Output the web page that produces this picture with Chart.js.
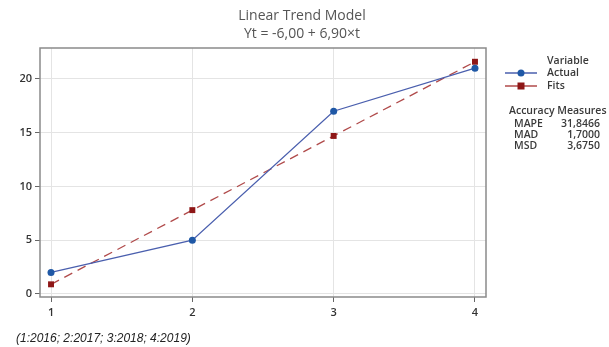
<!DOCTYPE html>
<html>
<head>
<meta charset="utf-8">
<script src="https://cdn.jsdelivr.net/npm/chart.js@4/dist/chart.umd.min.js"></script>
<style>
    html, body { margin: 0; padding: 0; background: #fff; }
    #wrap { position: relative; width: 609px; height: 347px; }
    #chart { position: absolute; left: 0; top: 0; }
    .txt { position: absolute; font-family: "Open Sans", sans-serif; color: #444; white-space: nowrap; }
    .title { left: 0; width: 604px; text-align: center; font-size: 14px; color: #555; }
    .leg { font-size: 10.5px; font-weight: 600; color: #3a3a3a; }
    .foot { left: 16px; top: 331px; font-family: "Liberation Sans", Arial, sans-serif; font-style: italic; font-size: 12px; color: #222; }
</style>
</head>
<body>
<div id="wrap">
    <canvas id="chart" width="609" height="347"></canvas>
    <div class="txt title" style="top:5px">Linear Trend Model</div>
    <div class="txt title" style="top:23px">Yt = -6,00 + 6,90×t</div>
    <div class="txt leg" style="left:547px; top:53px">Variable</div>
    <div class="txt leg" id="lab0" style="left:547px; top:65px"></div>
    <div class="txt leg" id="lab1" style="left:547px; top:78px"></div>
    <div class="txt leg" style="left:509px; top:103px">Accuracy Measures</div>
    <div id="acc"></div>
    <div class="txt foot">(1:2016; 2:2017; 3:2018; 4:2019)</div>
</div>
<script>
    // data
    const periods = [1, 2, 3, 4];
    const actualValues = [2, 5, 17, 21];
    const fitsValues = [0.9, 7.8, 14.7, 21.6];
    const seriesNames = ['Actual', 'Fits'];
    const yTicks = [0, 5, 10, 15, 20];
    const accNames = ['MAPE', 'MAD', 'MSD'];
    const accValues = ['31,8466', '1,7000', '3,6750'];

    const blueLine = '#4a5fae';
    const bluePoint = '#1f58a6';
    const redLine = '#b04a4a';
    const redPoint = '#8e1616';

    document.getElementById('lab0').textContent = seriesNames[0];
    document.getElementById('lab1').textContent = seriesNames[1];

    const accDiv = document.getElementById('acc');
    accNames.forEach((name, i) => {
        const top = 116 + i * 11;
        accDiv.innerHTML += `<div class="txt leg" style="left:514px; top:${top}px">${name}</div>` +
            `<div class="txt leg" style="left:540px; width:60px; text-align:right; top:${top}px">${accValues[i]}</div>`;
    });

    // box around the plot + legend symbols
    const extrasPlugin = {
        id: 'extras',
        afterDraw(chart) {
            const ctx = chart.ctx;
            const a = chart.chartArea;
            ctx.save();
            ctx.strokeStyle = '#8a8a8a';
            ctx.lineWidth = 1.5;
            ctx.strokeRect(a.left, a.top, a.right - a.left, a.bottom - a.top);

            const sym = [
                { y: 73, line: blueLine, fill: bluePoint, shape: 'circle' },
                { y: 86, line: redLine, fill: redPoint, shape: 'rect' }
            ];
            sym.forEach(s => {
                ctx.strokeStyle = s.line;
                ctx.lineWidth = 1.5;
                ctx.beginPath();
                ctx.moveTo(505, s.y);
                ctx.lineTo(537, s.y);
                ctx.stroke();
                ctx.fillStyle = s.fill;
                if (s.shape === 'circle') {
                    ctx.beginPath();
                    ctx.arc(521, s.y, 3.5, 0, Math.PI * 2);
                    ctx.fill();
                } else {
                    ctx.fillRect(517.5, s.y - 3.5, 7, 7);
                }
            });
            ctx.restore();
        }
    };

    const ctx = document.getElementById('chart').getContext('2d');
    new Chart(ctx, {
        type: 'line',
        data: {
            datasets: [
                {
                    label: seriesNames[0],
                    data: periods.map((p, i) => ({ x: p, y: actualValues[i] })),
                    borderColor: blueLine,
                    borderWidth: 1.3,
                    pointStyle: 'circle',
                    pointRadius: 3.5,
                    pointBackgroundColor: bluePoint,
                    pointBorderColor: bluePoint,
                    pointBorderWidth: 0,
                    tension: 0
                },
                {
                    label: seriesNames[1],
                    data: periods.map((p, i) => ({ x: p, y: fitsValues[i] })),
                    borderColor: redLine,
                    borderWidth: 1.3,
                    borderDash: [9, 6],
                    pointStyle: 'rect',
                    pointRadius: 4.2,
                    pointBackgroundColor: redPoint,
                    pointBorderColor: redPoint,
                    pointBorderWidth: 0,
                    tension: 0
                }
            ]
        },
        options: {
            responsive: false,
            animation: false,
            layout: { padding: { top: 48, right: 123, bottom: 0, left: 0 } },
            plugins: {
                legend: { display: false },
                title: { display: false },
                tooltip: { enabled: false }
            },
            scales: {
                x: {
                    type: 'linear',
                    min: 0.922,
                    max: 4.078,
                    afterBuildTicks: scale => { scale.ticks = periods.map(v => ({ value: v })); },
                    afterFit: scale => { scale.height = 50; },
                    grid: { color: '#e4e4e4', lineWidth: 1, tickColor: '#666', tickLength: 5 },
                    border: { display: false },
                    ticks: {
                        color: '#333',
                        padding: 4,
                        font: { family: 'Open Sans', size: 11, weight: 600 }
                    }
                },
                y: {
                    type: 'linear',
                    min: -0.28,
                    max: 22.88,
                    afterBuildTicks: scale => { scale.ticks = yTicks.map(v => ({ value: v })); },
                    afterFit: scale => { scale.width = 40; },
                    grid: { color: '#e4e4e4', lineWidth: 1, tickColor: '#666', tickLength: 5 },
                    border: { display: false },
                    ticks: {
                        color: '#333',
                        padding: 3,
                        font: { family: 'Open Sans', size: 11, weight: 600 }
                    }
                }
            }
        },
        plugins: [extrasPlugin]
    });
</script>
</body>
</html>
